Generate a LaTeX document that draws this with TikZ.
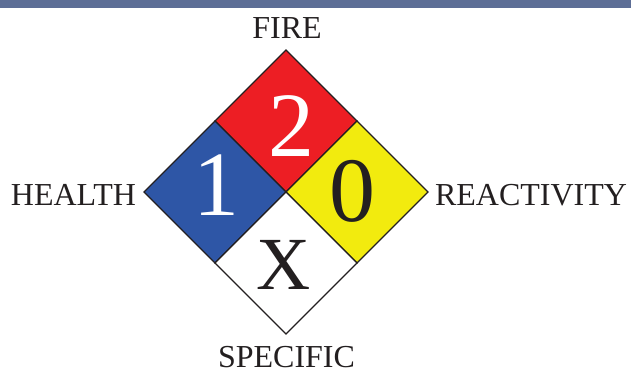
\documentclass[tikz,border=0pt]{standalone}
\usepackage{fontspec}
\setmainfont{Liberation Serif}
\usetikzlibrary{calc}

\definecolor{barblue}{RGB}{93,110,150}
\definecolor{firered}{RGB}{237,30,36}
\definecolor{healthblue}{RGB}{46,86,166}
\definecolor{reactyellow}{RGB}{242,235,14}
\definecolor{inkblack}{RGB}{35,31,32}

\begin{document}
\begin{tikzpicture}[x=1pt, y=-1pt,
    field/.style={draw=inkblack, line width=1.2pt, line join=miter},
    sidetext/.style={font=\fontsize{32}{36}\selectfont, text=inkblack, inner sep=0pt},
    digit/.style={font=\fontsize{92}{96}\selectfont, inner sep=0pt},
    specialtext/.style={font=\fontsize{75}{80}\selectfont, text=inkblack, inner sep=0pt}
  ]
  \useasboundingbox (0,0) rectangle (631,373);

  % Balken oben
  \fill[barblue] (0,0) rectangle (631,8);

  % Eckpunkte der Raute (halbe Diagonale eines Feldes = 71)
  \coordinate (c)  at (286,192);
  \coordinate (t)  at (286,50);
  \coordinate (l)  at (144,192);
  \coordinate (r)  at (428,192);
  \coordinate (b)  at (286,334);
  \coordinate (tl) at (215,121);
  \coordinate (tr) at (357,121);
  \coordinate (bl) at (215,263);
  \coordinate (br) at (357,263);

  % Felder
  \draw[field, fill=firered]     (t) -- (tr) -- (c) -- (tl) -- cycle;
  \draw[field, fill=healthblue]  (tl) -- (c) -- (bl) -- (l) -- cycle;
  \draw[field, fill=reactyellow] (tr) -- (r) -- (br) -- (c) -- cycle;
  \draw[field, fill=white]       (c) -- (br) -- (b) -- (bl) -- cycle;

  % Ziffern
  \node[digit, text=white]    (fire)   at (291,126) {2};
  \node[digit, text=white]    (health) at (216,185) {1};
  \node[digit, text=inkblack] (react)  at (352,191) {0};
  \node[specialtext]          (spec)   at (284,265) {X};

  % Beschriftung aussen
  \node[sidetext] (firelabel)   at (287,28)    {FIRE};
  \node[sidetext] (healthlabel) at (73.5,194.5) {HEALTH};
  \node[sidetext] (reactlabel)  at (531,195.5) {REACTIVITY};
  \node[sidetext] (speclabel)   at (286.5,357.5) {SPECIFIC};

\end{tikzpicture}
\end{document}
